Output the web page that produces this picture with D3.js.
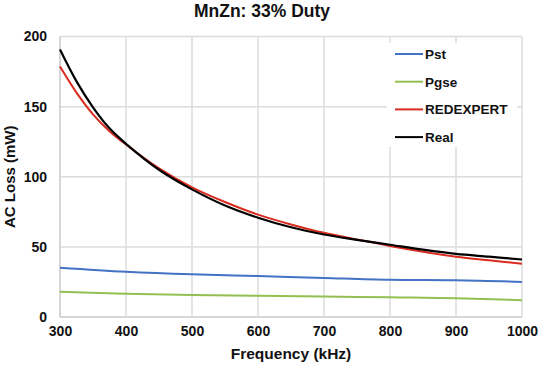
<!DOCTYPE html>
<html><head><meta charset="utf-8">
<script src="https://cdn.jsdelivr.net/npm/d3@7"></script>
<style>body{margin:0;background:#fff}svg{display:block}text{font-family:"Liberation Sans",Arial,sans-serif;font-weight:bold;fill:#111}</style>
</head><body>
<script>
const title = "MnZn: 33% Duty";
const xLabel = "Frequency (kHz)";
const yLabel = "AC Loss (mW)";
const xTicks = [300,400,500,600,700,800,900,1000];
const yTicks = [0,50,100,150,200];
const seriesNames = ["Pst","Pgse","REDEXPERT","Real"];
const seriesColors = ["#4472C4","#92C050","#D92B1E","#000000"];
const freqCurve = [300,325,350,375,400,450,500,550,600,650,700,750,800,850,900,950,1000];
const real =      [190.7,168,149.5,134.5,123.5,105,91,79.5,70.8,64,58.8,55,51.5,48,45,43,41];
const redexpert = [178.6,160,144.5,132.5,123,106,92.5,82,73,66,60,55.3,50.7,46.6,43,40.4,38];
const freqP = [300,400,500,600,700,800,900,1000];
const pst =  [35.2,32.3,30.4,29.2,27.8,26.5,26.2,25];
const pgse = [18,16.6,15.7,15.2,14.6,14,13.4,12];

const W=540,H=373;
const m={l:60,r:18,t:36.5,b:56};
const svg=d3.select("body").append("svg").attr("width",W).attr("height",H);
const x=d3.scaleLinear().domain([300,1000]).range([m.l,W-m.r]);
const y=d3.scaleLinear().domain([0,200]).range([H-m.b,m.t]);

// gridlines
svg.append("g").selectAll("line").data(yTicks).join("line")
  .attr("x1",x(300)).attr("x2",x(1000)).attr("y1",d=>y(d)).attr("y2",d=>y(d))
  .attr("stroke",d=>d===0?"#c8c8c8":"#dcdcdc").attr("stroke-width",1.5);
svg.append("g").selectAll("line").data(xTicks).join("line")
  .attr("y1",y(0)).attr("y2",y(200)).attr("x1",d=>x(d)).attr("x2",d=>x(d))
  .attr("stroke",d=>d===300?"#c8c8c8":"#dcdcdc").attr("stroke-width",1.5);

// axes labels via d3 axes
const xa=svg.append("g").attr("transform",`translate(0,${y(0)})`)
  .call(d3.axisBottom(x).tickValues(xTicks).tickFormat(d3.format("d")).tickSize(0).tickPadding(9));
xa.select(".domain").remove();
xa.selectAll("text").attr("font-size",14).attr("fill","#111").style("font-family","Liberation Sans,Arial").style("font-weight","bold");
const ya=svg.append("g").attr("transform",`translate(${m.l},0)`)
  .call(d3.axisLeft(y).tickValues(yTicks).tickSize(0).tickPadding(13));
ya.select(".domain").remove();
ya.selectAll("text").attr("font-size",14).attr("fill","#111").style("font-family","Liberation Sans,Arial").style("font-weight","bold");

// lines
const line=d3.line().x(d=>x(d[0])).y(d=>y(d[1])).curve(d3.curveCatmullRom.alpha(0.5));
const data=[
  d3.zip(freqP,pst),
  d3.zip(freqP,pgse),
  d3.zip(freqCurve,redexpert),
  d3.zip(freqCurve,real)
];
svg.append("g").selectAll("path").data(data).join("path")
  .attr("d",line).attr("fill","none")
  .attr("stroke",(d,i)=>seriesColors[i]).attr("stroke-width",(d,i)=>i===3?2.2:2);

// legend
const lg=svg.append("g");
lg.append("rect").attr("x",387).attr("y",43).attr("width",130).attr("height",104).attr("fill","#fff");
const rows=lg.selectAll("g").data(seriesNames).join("g")
  .attr("transform",(d,i)=>`translate(395,${54+i*27.7})`);
rows.append("line").attr("x1",0).attr("x2",28).attr("y1",0).attr("y2",0)
  .attr("stroke",(d,i)=>seriesColors[i]).attr("stroke-width",2);
rows.append("text").attr("x",30).attr("y",5).attr("font-size",13.5).text(d=>d);

// titles
svg.append("text").attr("x",262).attr("y",17).attr("text-anchor","middle").attr("font-size",17.5).text(title);
svg.append("text").attr("x",x(650)).attr("y",359).attr("text-anchor","middle").attr("font-size",15.5).text(xLabel);
svg.append("text").attr("transform",`translate(15,${y(100)}) rotate(-90)`).attr("text-anchor","middle").attr("font-size",15).text(yLabel);
</script>
</body></html>
